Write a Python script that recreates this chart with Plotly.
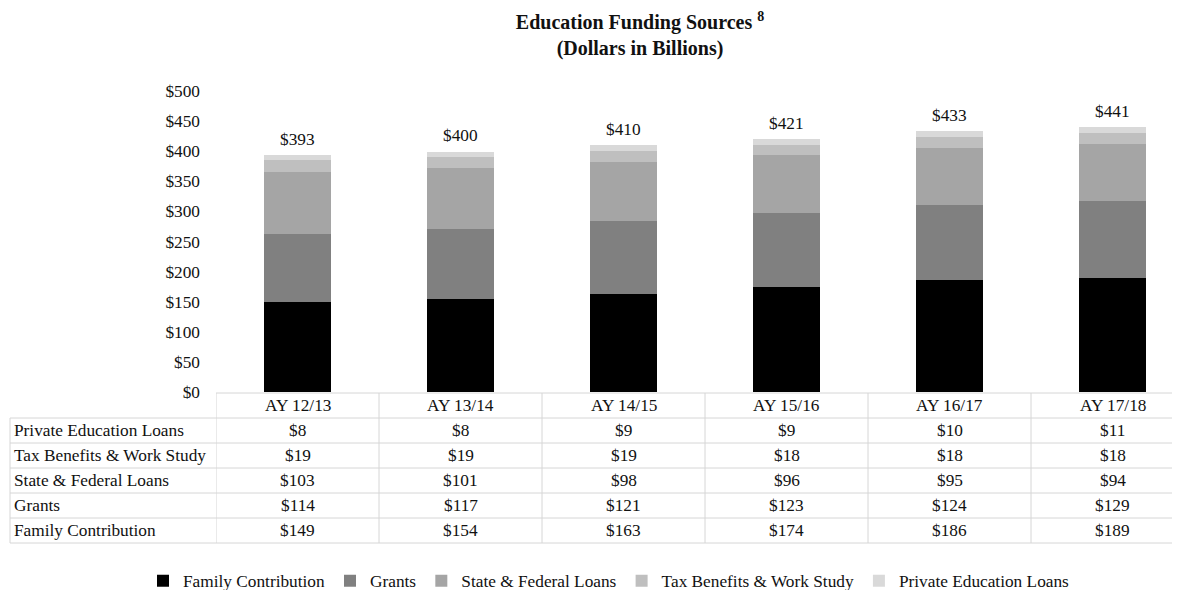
"""Education funding sources - stacked bars with data table"""

import plotly.graph_objects as go

# Dados do gráfico
years = ["AY 12/13", "AY 13/14", "AY 14/15", "AY 15/16", "AY 16/17", "AY 17/18"]
family = [149, 154, 163, 174, 186, 189]
grants = [114, 117, 121, 123, 124, 129]
state_federal = [103, 101, 98, 96, 95, 94]
tax_benefits = [19, 19, 19, 18, 18, 18]
private_loans = [8, 8, 9, 9, 10, 11]
totals = [393, 400, 410, 421, 433, 441]

series = [
    ("Family Contribution", family, "#000000"),
    ("Grants", grants, "#808080"),
    ("State & Federal Loans", state_federal, "#a5a5a5"),
    ("Tax Benefits & Work Study", tax_benefits, "#bfbfbf"),
    ("Private Education Loans", private_loans, "#d9d9d9"),
]

# Ordem das linhas da tabela (de cima para baixo)
table_rows = list(reversed(series))

FONT = "Liberation Serif"
TEXT = "#111111"
GRID = "#d6d6d6"
FS = 17.3

# A página tem 8px de margem no body: as posições abaixo são da página
OFF = 8
W, H = 1180 - OFF, 590 - OFF
L, T = 216 - OFF, 91 - OFF
B = H - (392 - OFF)
plot_h = H - T - B
plot_w = W - L
col_w = 163
row_h = 25


def py(page_y):
    """Converte y da página (px) para coordenada paper."""
    return (H - B - (page_y - OFF)) / plot_h


def px(page_x):
    """Converte x da página (px) para coordenada paper."""
    return (page_x - OFF - L) / plot_w


fig = go.Figure()

for name, values, color in series:
    fig.add_trace(
        go.Bar(
            x=years,
            y=values,
            name=name,
            marker=dict(color=color, line=dict(width=0)),
            width=0.41,
            hovertemplate="%{x}<br>" + name + ": $%{y}<extra></extra>",
        )
    )

shapes = []
annotations = []

# Totais acima das barras
for year, total in zip(years, totals):
    annotations.append(
        dict(x=year, y=total, xref="x", yref="y", text=f"${total}",
             showarrow=False, xanchor="center", yanchor="bottom", yshift=4,
             font=dict(family=FONT, size=FS, color=TEXT))
    )

# Tabela: linha de cabeçalho
top = 393
shapes.append(
    dict(type="line", xref="x", yref="paper", x0=-0.5, x1=len(years),
         y0=py(top), y1=py(top), line=dict(color=GRID, width=1))
)
for year in years:
    annotations.append(
        dict(x=year, y=py(top + row_h / 2), xref="x", yref="paper",
             text=year, showarrow=False, xanchor="center", yanchor="middle",
             font=dict(family=FONT, size=FS, color=TEXT))
    )

# Tabela: linhas de dados
for r, (name, values, _) in enumerate(table_rows):
    y_top = top + row_h * (r + 1)
    shapes.append(
        dict(type="line", xref="paper", yref="paper", x0=px(10), x1=1.02,
             y0=py(y_top), y1=py(y_top), line=dict(color=GRID, width=1))
    )
    yc = py(y_top + row_h / 2)
    annotations.append(
        dict(x=px(12), y=yc, xref="paper", yref="paper", text=name,
             showarrow=False, xanchor="left", yanchor="middle",
             font=dict(family=FONT, size=FS, color=TEXT))
    )
    for year, v in zip(years, values):
        annotations.append(
            dict(x=year, y=yc, xref="x", yref="paper", text=f"${v}",
                 showarrow=False, xanchor="center", yanchor="middle",
                 font=dict(family=FONT, size=FS, color=TEXT))
        )

bottom = top + row_h * (len(table_rows) + 1)
shapes.append(
    dict(type="line", xref="paper", yref="paper", x0=px(10), x1=1.02,
         y0=py(bottom), y1=py(bottom), line=dict(color=GRID, width=1))
)
# Bordas verticais
shapes.append(
    dict(type="line", xref="paper", yref="paper", x0=px(10), x1=px(10),
         y0=py(top + row_h), y1=py(bottom), line=dict(color=GRID, width=1))
)
for i in range(len(years) + 1):
    shapes.append(
        dict(type="line", xref="x", yref="paper", x0=i - 0.5, x1=i - 0.5,
             y0=py(top), y1=py(bottom), line=dict(color=GRID, width=1))
    )

fig.update_layout(
    width=W,
    height=H,
    barmode="stack",
    title=dict(
        text="Education Funding Sources <sup>8</sup><br>(Dollars in Billions)",
        x=(640 - OFF) / W,
        xanchor="center",
        y=1 - 21 / H,
        yanchor="top",
        font=dict(family=FONT, size=20, color=TEXT, weight="bold"),
    ),
    xaxis=dict(
        range=[-0.5, -0.5 + plot_w / col_w],
        showticklabels=False,
        showgrid=False,
        zeroline=False,
        showline=False,
        ticks="",
    ),
    yaxis=dict(
        range=[0, 500],
        dtick=50,
        tickprefix="$",
        showgrid=False,
        zeroline=False,
        showline=False,
        ticks="",
        ticklabelstandoff=15,
        tickfont=dict(family=FONT, size=FS, color=TEXT),
    ),
    legend=dict(
        orientation="h",
        x=px(609),
        xanchor="center",
        y=py(581),
        yanchor="middle",
        font=dict(family=FONT, size=FS, color=TEXT),
        itemwidth=30,
        traceorder="normal",
    ),
    shapes=shapes,
    annotations=annotations,
    margin=dict(l=L, r=0, t=T, b=B, autoexpand=False),
    plot_bgcolor="white",
    paper_bgcolor="white",
    font=dict(family=FONT, color=TEXT),
)

fig.write_html("out.html")
